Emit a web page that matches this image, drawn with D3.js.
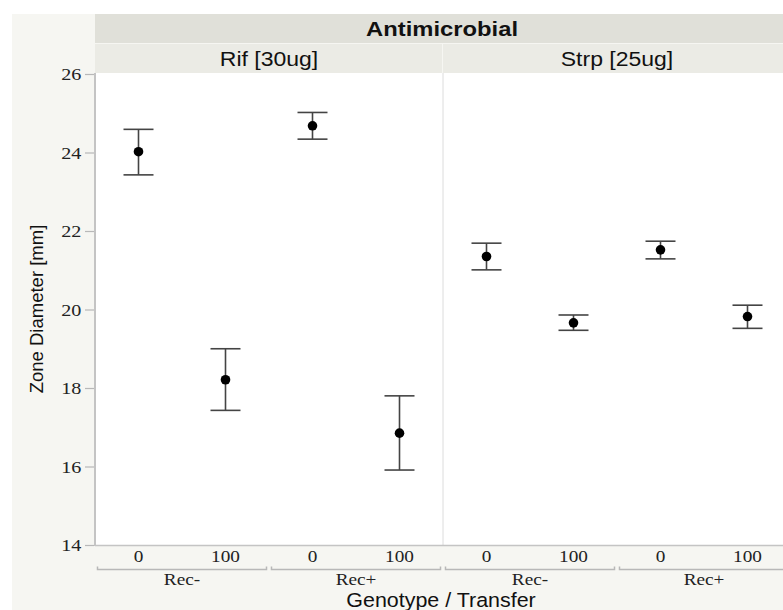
<!DOCTYPE html>
<html>
<head>
<meta charset="utf-8">
<script src="https://cdn.jsdelivr.net/npm/d3@7"></script>
<style>
  body { margin: 0; background: #fff; }
  .sans { font-family: "Liberation Sans", Arial, sans-serif; fill: #111; }
  .serif { font-family: "Liberation Serif", "Times New Roman", serif; fill: #222; }
</style>
</head>
<body>
<div id="chart"></div>
<script>
// chart data
var antimicrobials = ["Rif [30ug]", "Strp [25ug]"];
var genotypes = ["Rec-", "Rec+"];
var transfers = ["0", "100"];
var yTicks = [14, 16, 18, 20, 22, 24, 26];

// one value per genotype/transfer combo: Rec-/0, Rec-/100, Rec+/0, Rec+/100
var rifMean  = [24.02, 18.21, 24.68, 16.85];
var rifLow   = [23.43, 17.43, 24.34, 15.91];
var rifHigh  = [24.59, 19.00, 25.02, 17.80];
var strpMean = [21.35, 19.66, 21.52, 19.82];
var strpLow  = [21.01, 19.47, 21.29, 19.52];
var strpHigh = [21.69, 19.86, 21.74, 20.11];

var W = 783, H = 610;
var plotLeft = 95, plotTop = 73, plotBottom = 545;
var panelW = 348;
var sx = 1.18; // reference text looks stretched horizontally

var combos = [];
genotypes.forEach(g => transfers.forEach(t => combos.push(g + "|" + t)));

var panels = [
  {name: antimicrobials[0], mean: rifMean, low: rifLow, high: rifHigh},
  {name: antimicrobials[1], mean: strpMean, low: strpLow, high: strpHigh}
];

var svg = d3.select("#chart").append("svg")
  .attr("width", W).attr("height", H);

// background
svg.append("rect").attr("x", 12).attr("y", 14).attr("width", W - 12).attr("height", H - 14)
  .attr("fill", "#f6f6f2");

var yScale = d3.scaleLinear().domain([14, 26]).range([plotBottom, plotTop + 1]);
var panelScale = d3.scaleBand().domain(antimicrobials).range([plotLeft, plotLeft + panelW * 2]);
var xScale = d3.scaleBand().domain(combos).range([0, panelW]);
var groupScale = d3.scaleBand().domain(genotypes).range([0, panelW]);

// header bands
svg.append("rect").attr("x", plotLeft).attr("y", 14).attr("width", W - plotLeft).attr("height", 29)
  .attr("fill", "#e0e0d9");
svg.append("text").attr("class", "sans")
  .attr("transform", "translate(" + (plotLeft + panelW - 1) + ",36) scale(1.22,1)")
  .attr("text-anchor", "middle").style("font-size", "19.5px").style("font-weight", "bold")
  .text("Antimicrobial");

panels.forEach(function(p) {
  var x0 = panelScale(p.name);
  svg.append("rect").attr("x", x0).attr("y", 44).attr("width", panelW - 1).attr("height", 29)
    .attr("fill", "#ebebe5");
  svg.append("text").attr("class", "sans")
    .attr("transform", "translate(" + (x0 + panelW / 2) + ",66) scale(" + sx + ",1)")
    .attr("text-anchor", "middle").style("font-size", "19.5px")
    .text(p.name);

  // plot area
  svg.append("rect").attr("x", x0).attr("y", plotTop).attr("width", panelW).attr("height", plotBottom - plotTop)
    .attr("fill", "#fff");
});

// panel divider
svg.append("line")
  .attr("x1", panelScale(antimicrobials[1])).attr("x2", panelScale(antimicrobials[1]))
  .attr("y1", plotTop).attr("y2", plotBottom)
  .attr("stroke", "#dcdcdc").attr("stroke-width", 1);

// error bars and means
panels.forEach(function(p) {
  var g = svg.append("g").attr("transform", "translate(" + panelScale(p.name) + ",0)");
  var rows = combos.map((c, i) => ({c: c, mean: p.mean[i], low: p.low[i], high: p.high[i]}));
  var cx = d => xScale(d.c) + xScale.bandwidth() / 2;

  g.selectAll(".stem").data(rows).enter().append("line")
    .attr("x1", cx).attr("x2", cx)
    .attr("y1", d => yScale(d.low)).attr("y2", d => yScale(d.high))
    .attr("stroke", "#444").attr("stroke-width", 1.6);
  ["low", "high"].forEach(function(k) {
    g.selectAll(".cap-" + k).data(rows).enter().append("line")
      .attr("x1", d => cx(d) - 15).attr("x2", d => cx(d) + 15)
      .attr("y1", d => yScale(d[k])).attr("y2", d => yScale(d[k]))
      .attr("stroke", "#444").attr("stroke-width", 1.6);
  });
  g.selectAll("circle").data(rows).enter().append("circle")
    .attr("cx", cx).attr("cy", d => yScale(d.mean)).attr("r", 4.8)
    .attr("fill", "#000");

  // x tick labels
  g.selectAll(".xlab").data(combos).enter().append("text").attr("class", "serif")
    .attr("transform", d => "translate(" + (xScale(d) + xScale.bandwidth() / 2) + ",562) scale(1.1,1)")
    .attr("text-anchor", "middle").style("font-size", "17.5px")
    .text(d => d.split("|")[1]);

  // group brackets
  genotypes.forEach(function(gt) {
    var a = groupScale(gt) + 2.5, b = groupScale(gt) + groupScale.bandwidth() - 2.5;
    g.append("path")
      .attr("d", "M" + a + ",566.5V569.5H" + b + "V566.5")
      .attr("fill", "none").attr("stroke", "#b8b8b8").attr("stroke-width", 1.5);
    g.append("text").attr("class", "serif")
      .attr("transform", "translate(" + (groupScale(gt) + groupScale.bandwidth() / 2) + ",585) scale(1.1,1)")
      .attr("text-anchor", "middle").style("font-size", "17.5px")
      .text(gt);
  });
});

// y axis
var yAxis = d3.axisLeft(yScale).tickValues(yTicks).tickSize(9).tickPadding(2).tickFormat(d3.format("d"));
var yg = svg.append("g").attr("transform", "translate(" + (plotLeft - 1) + ",0)").call(yAxis);
yg.select(".domain").remove();
yg.selectAll("line").attr("stroke", "#b8b8b8").attr("stroke-width", 1.2);
yg.selectAll("text").attr("class", "serif").style("font-size", "17.5px").attr("fill", "#222")
  .attr("transform", "scale(1.15,1)");

// axis lines
svg.append("line").attr("x1", plotLeft).attr("x2", plotLeft).attr("y1", plotTop).attr("y2", plotBottom + 1)
  .attr("stroke", "#c4c4c4").attr("stroke-width", 2);
svg.append("line").attr("x1", plotLeft).attr("x2", W).attr("y1", plotBottom + 0.5).attr("y2", plotBottom + 0.5)
  .attr("stroke", "#c4c4c4").attr("stroke-width", 1.5);

// axis titles
svg.append("text").attr("class", "sans")
  .attr("transform", "translate(43," + ((plotTop + plotBottom) / 2) + ") rotate(-90)")
  .attr("text-anchor", "middle").style("font-size", "18.5px")
  .text("Zone Diameter [mm]");
svg.append("text").attr("class", "sans")
  .attr("transform", "translate(441,607) scale(1.1,1)")
  .attr("text-anchor", "middle").style("font-size", "19.5px")
  .text("Genotype / Transfer");
</script>
</body>
</html>
